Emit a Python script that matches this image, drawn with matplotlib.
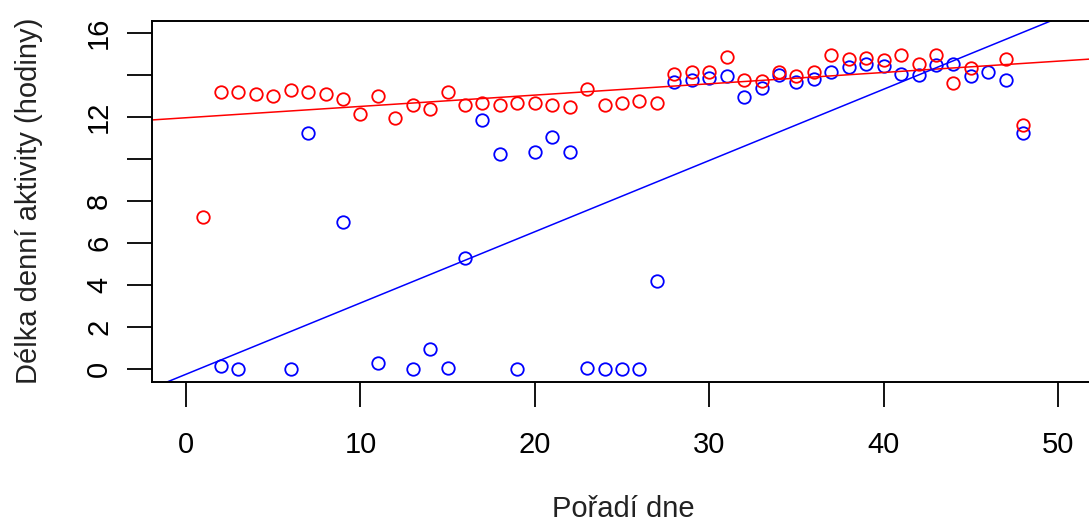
import matplotlib
matplotlib.use("Agg")
import matplotlib.pyplot as plt

plt.rcParams["font.family"] = ["Liberation Sans", "DejaVu Sans"]

# Červená řada: pořadí dne a délka aktivity (hodiny)
dny_cervena = list(range(1, 46)) + [47, 48]
hodiny_cervena = [7.25, 13.2, 13.2, 13.1, 13.0, 13.3, 13.2, 13.1, 12.86, 12.15,
                  13.0, 11.94, 12.58, 12.39, 13.2, 12.6, 12.69, 12.58, 12.66, 12.66,
                  12.58, 12.5, 13.33, 12.58, 12.66, 12.78, 12.66, 14.06, 14.14, 14.17,
                  14.85, 13.77, 13.74, 14.14, 13.96, 14.17, 14.96, 14.76, 14.8, 14.73,
                  14.96, 14.52, 14.96, 13.61, 14.36, 14.76, 11.62]

# Modrá řada
dny_modra = [2, 3, 6, 7, 9, 11, 13, 14, 15, 16, 17, 18, 19, 20, 21, 22, 23, 24,
             25, 26, 27, 28, 29, 30, 31, 32, 33, 34, 35, 36, 37, 38, 39, 40, 41,
             42, 43, 44, 45, 46, 47, 48]
hodiny_modra = [0.1, 0.0, 0.0, 11.23, 6.98, 0.28, 0.0, 0.92, 0.05, 5.26, 11.86,
                10.24, 0.0, 10.32, 11.03, 10.32, 0.05, 0.0, 0.0, 0.0, 4.18, 13.69,
                13.77, 13.88, 13.96, 12.94, 13.37, 14.01, 13.69, 13.82, 14.14, 14.41,
                14.52, 14.45, 14.04, 14.01, 14.49, 14.52, 13.96, 14.14, 13.77, 11.23]

# Regresní přímky (abline): průsečík, směrnice
primka_cervena = (11.97, 0.054)
primka_modra = (-0.27, 0.34)

y_ticks = [0, 2, 4, 6, 8, 10, 12, 14, 16]
y_labels = ["0", "2", "4", "6", "8", "", "12", "", "16"]
x_ticks = [0, 10, 20, 30, 40, 50]

W, H = 1089, 526
fig = plt.figure(figsize=(W / 100, H / 100), dpi=100)
ax = fig.add_axes([152 / W, 144 / H, (1095 - 152) / W, (505.5 - 144) / H])

ax.plot(dny_modra, hodiny_modra, "o", mfc="none", mec="#0000FF", ms=9, mew=1.3)
ax.plot(dny_cervena, hodiny_cervena, "o", mfc="none", mec="#FF0000", ms=9, mew=1.3)
ax.axline((0, primka_cervena[0]), slope=primka_cervena[1], color="#FF0000", lw=1.1)
ax.axline((0, primka_modra[0]), slope=primka_modra[1], color="#0000FF", lw=1.1)

ax.set_xlim(-1.95, 52.12)
ax.set_ylim(-0.64, 16.61)
ax.set_xticks(x_ticks)
ax.set_yticks(y_ticks)
ax.set_yticklabels(y_labels, rotation=90, va="center")
ax.tick_params(axis="both", length=18, width=1.3, labelsize=21, colors="black")
ax.tick_params(axis="y", pad=10)
ax.tick_params(axis="x", pad=17)
for s in ["left", "bottom", "top"]:
    ax.spines[s].set_linewidth(1.4)
ax.spines["right"].set_visible(False)

ax.set_xlabel("Pořadí dne", fontsize=21, labelpad=26, color="#222222")
ax.set_ylabel("Délka denní aktivity (hodiny)", fontsize=21, labelpad=30, color="#222222")

fig.savefig("out.png", dpi=100)
